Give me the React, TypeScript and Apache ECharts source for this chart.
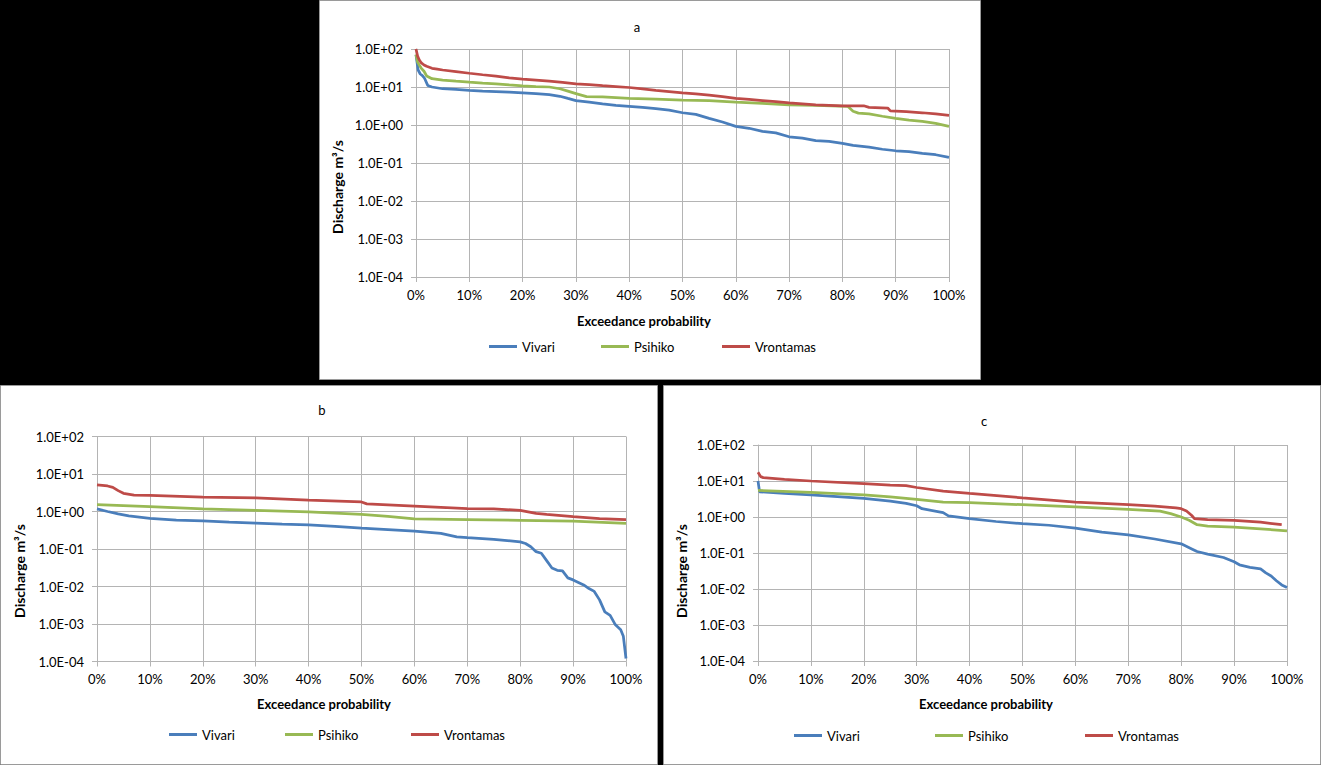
import React, { useEffect, useRef } from 'react';
import * as echarts from 'echarts';

const seriesNames = ['Vivari', 'Psihiko', 'Vrontamas'];
const seriesColors = ['#4A7EBB', '#98B954', '#BE4B48'];
const panelTitles = ['a', 'b', 'c'];
const xTickPercents = [0, 10, 20, 30, 40, 50, 60, 70, 80, 90, 100];
const yMin = 0.0001;
const yMax = 100;

// Panel a
const aVivari: [number, number][] = [
  [0, 70], [0.4, 28], [0.8, 22], [1.2, 20], [1.6, 17], [2.2, 11], [3, 10], [5, 9], [7.5, 8.6], [10, 8.1],
  [12.5, 7.8], [15, 7.6], [17.5, 7.3], [20, 7.0], [22.5, 6.7], [25, 6.3], [27, 5.7], [28.5, 5], [30, 4.4],
  [32.5, 4.0], [35, 3.6], [37.5, 3.3], [40, 3.1], [42.5, 2.9], [45, 2.7], [47.5, 2.45], [50, 2.1], [52.5, 1.9],
  [55, 1.5], [57.5, 1.2], [60, 0.92], [62.5, 0.82], [65, 0.68], [67.5, 0.62], [70, 0.49], [72.5, 0.45],
  [75, 0.39], [77.5, 0.37], [80, 0.33], [82, 0.29], [85, 0.26], [87.5, 0.23], [90, 0.21], [92.5, 0.2],
  [95, 0.18], [97.5, 0.165], [100, 0.14],
];
const aPsihiko: [number, number][] = [
  [0, 72], [0.3, 45], [0.7, 36], [1, 31], [1.5, 26], [2, 19.5], [3, 16.5], [5, 15.2], [7.5, 14.2], [10, 13.4],
  [12.5, 12.7], [15, 12.1], [17.5, 11.3], [20, 10.7], [22.5, 10.3], [25, 10], [27, 9], [28.5, 7.8], [30, 6.7],
  [32, 5.6], [35, 5.5], [40, 5.0], [45, 4.8], [50, 4.5], [55, 4.4], [60, 4.0], [65, 3.7], [70, 3.4], [75, 3.3],
  [81, 3.1], [82, 2.3], [83, 2.05], [85, 1.95], [87.5, 1.7], [90, 1.5], [92.5, 1.35], [95, 1.25], [97.5, 1.1],
  [100, 0.92],
];
const aVrontamas: [number, number][] = [
  [0, 100], [0.3, 65], [0.6, 52], [1, 43], [1.5, 38], [2, 35], [3, 31], [4, 29.5], [5, 28], [7.5, 25.5],
  [10, 23], [12.5, 21], [15, 19.4], [17.5, 17.5], [20, 16.2], [22.5, 15.2], [25, 14.2], [27.5, 13.2], [30, 12.1],
  [32.5, 11.6], [35, 10.9], [37.5, 10.3], [40, 9.7], [42.5, 8.9], [45, 8.1], [47.5, 7.6], [50, 7.0], [52.5, 6.6],
  [55, 6.1], [57.5, 5.6], [60, 5.0], [62.5, 4.7], [65, 4.4], [67.5, 4.1], [70, 3.8], [72.5, 3.6], [75, 3.4],
  [77.5, 3.3], [80, 3.2], [84, 3.2], [85, 2.9], [88.5, 2.8], [89, 2.35], [92, 2.25], [95, 2.1], [97.5, 1.95],
  [100, 1.8],
];

// Panel b
const bVivari: [number, number][] = [
  [0, 1.17], [2, 1.0], [4, 0.86], [6, 0.76], [10, 0.66], [15, 0.59], [20, 0.56], [25, 0.52], [30, 0.49],
  [35, 0.46], [40, 0.44], [45, 0.4], [50, 0.36], [55, 0.33], [60, 0.3], [65, 0.26], [68, 0.21], [70, 0.2],
  [75, 0.18], [80, 0.155], [81, 0.14], [82, 0.115], [83, 0.085], [84, 0.077], [85, 0.049], [86, 0.031],
  [87, 0.027], [88, 0.026], [89, 0.017], [90, 0.015], [92, 0.011], [93, 0.0088], [94, 0.0074], [95, 0.0044],
  [96, 0.0021], [97, 0.0017], [98, 0.00095], [99, 0.0007], [99.5, 0.00047], [100, 0.00012],
];
const bPsihiko: [number, number][] = [
  [0, 1.52], [10, 1.35], [20, 1.17], [30, 1.07], [40, 0.97], [50, 0.84], [55, 0.74], [60, 0.64], [70, 0.61],
  [80, 0.58], [90, 0.55], [100, 0.48],
];
const bVrontamas: [number, number][] = [
  [0, 5.1], [2, 4.8], [3, 4.4], [4, 3.6], [5, 3.05], [7, 2.75], [10, 2.7], [20, 2.4], [30, 2.3], [40, 2.0],
  [50, 1.8], [51, 1.6], [60, 1.4], [70, 1.2], [75, 1.17], [80, 1.07], [83, 0.89], [85, 0.84], [90, 0.73],
  [95, 0.65], [100, 0.61],
];

// Panel c
const cVivari: [number, number][] = [
  [0, 10], [0.3, 5.0], [5, 4.5], [10, 4.1], [15, 3.7], [20, 3.3], [25, 2.75], [28, 2.4], [30, 2.05], [31, 1.7],
  [35, 1.32], [36, 1.07], [40, 0.9], [45, 0.75], [50, 0.65], [55, 0.59], [60, 0.49], [65, 0.38], [70, 0.32],
  [75, 0.245], [80, 0.18], [82, 0.13], [83, 0.11], [85, 0.093], [88, 0.075], [90, 0.057], [91, 0.047],
  [93, 0.04], [95, 0.036], [96, 0.028], [97, 0.023], [98, 0.017], [99, 0.013], [100, 0.011],
];
const cPsihiko: [number, number][] = [
  [0, 5.5], [10, 4.8], [20, 4.1], [25, 3.6], [30, 3.1], [35, 2.6], [40, 2.5], [50, 2.2], [60, 1.9], [70, 1.64],
  [76, 1.46], [78, 1.24], [80, 1.0], [81.5, 0.81], [83, 0.61], [85, 0.56], [90, 0.52], [95, 0.47], [100, 0.41],
];
const cVrontamas: [number, number][] = [
  [0, 17.5], [0.5, 13.2], [1, 12.4], [5, 11.1], [10, 10], [20, 8.4], [25, 7.7], [28, 7.4], [30, 6.6], [35, 5.2],
  [40, 4.5], [50, 3.4], [60, 2.6], [70, 2.2], [75, 2.0], [79, 1.8], [80, 1.7], [81, 1.47], [82, 1.1],
  [82.5, 0.9], [85, 0.84], [90, 0.81], [95, 0.72], [99, 0.61],
];

const panelData = [
  [aVivari, aPsihiko, aVrontamas],
  [bVivari, bPsihiko, bVrontamas],
  [cVivari, cPsihiko, cVrontamas],
];

const FONT = 'Lato, "Open Sans", "Liberation Sans", sans-serif';

const layouts = [
  {
    grid: { left: 416, top: 49, width: 533, height: 228 },
    rect: { x: 319.5, y: 0.5, width: 661, height: 379 },
    title: [637, 27], xName: [644, 321], yName: [337, 187],
    legend: [[489, 348], [601, 348], [722, 348]],
  },
  {
    grid: { left: 97, top: 436.5, width: 529, height: 225 },
    rect: { x: 0.5, y: 385.5, width: 657, height: 379 },
    title: [322, 410], xName: [324, 704], yName: [19, 571],
    legend: [[169, 736], [285, 736], [411, 736]],
  },
  {
    grid: { left: 758, top: 445, width: 529, height: 216 },
    rect: { x: 663.5, y: 385.5, width: 657, height: 379 },
    title: [984, 421], xName: [986, 704], yName: [681, 571],
    legend: [[794, 737], [935, 737], [1085, 737]],
  },
];

function expLabel(v: number): string {
  const e = Math.round(Math.log10(v));
  return '1.0E' + (e >= 0 ? '+' : '-') + String(Math.abs(e)).padStart(2, '0');
}

function buildOption() {
  const gridColor = '#b4b4b4';
  const grids: any[] = [];
  const xAxes: any[] = [];
  const yAxes: any[] = [];
  const series: any[] = [];
  const legends: any[] = [];
  const elements: any[] = [];

  layouts.forEach((L, i) => {
    grids.push({ ...L.grid, containLabel: false });
    xAxes.push({
      type: 'value', gridIndex: i, min: xTickPercents[0], max: xTickPercents[xTickPercents.length - 1],
      interval: xTickPercents[1] - xTickPercents[0],
      axisLine: { show: true, lineStyle: { color: gridColor, width: 1 } },
      axisTick: { show: true, length: 5, lineStyle: { color: gridColor } },
      splitLine: { show: true, lineStyle: { color: gridColor, width: 1 } },
      axisLabel: { formatter: '{value}%', margin: 11, color: '#000', fontSize: 13, fontFamily: FONT },
    });
    yAxes.push({
      type: 'log', logBase: 10, gridIndex: i, min: yMin, max: yMax, splitNumber: 6,
      axisLine: { show: true, lineStyle: { color: gridColor, width: 1 } },
      axisTick: { show: true, length: 5, lineStyle: { color: gridColor } },
      splitLine: { show: true, lineStyle: { color: gridColor, width: 1 } },
      minorTick: { show: false },
      axisLabel: { formatter: (v: number) => expLabel(v), margin: 13, color: '#000', fontSize: 13, fontFamily: FONT },
    });
    seriesNames.forEach((name, k) => {
      series.push({
        type: 'line', name, xAxisIndex: i, yAxisIndex: i, data: panelData[i][k],
        showSymbol: false, symbol: 'none', smooth: false,
        lineStyle: { color: seriesColors[k], width: 2.75 },
        itemStyle: { color: seriesColors[k] },
        z: 3 + k,
      });
      legends.push({
        data: [name], left: L.legend[k][0], top: L.legend[k][1] - 8, padding: 0, itemGap: 0,
        icon: 'rect', itemWidth: 28, itemHeight: 3, selectedMode: false,
        textStyle: { color: '#000', fontSize: 13, fontFamily: FONT },
      });
    });
    elements.push({
      type: 'rect', z: -10, silent: true,
      shape: L.rect,
      style: { fill: '#ffffff', stroke: '#9a9a9a', lineWidth: 1 },
    });
    elements.push({
      type: 'text', z: 50, x: L.title[0], y: L.title[1],
      style: { text: panelTitles[i], fill: '#000', font: `13px ${FONT}`, textAlign: 'center', textVerticalAlign: 'middle' },
    });
    elements.push({
      type: 'text', z: 50, x: L.xName[0], y: L.xName[1],
      style: { text: 'Exceedance probability', fill: '#000', font: `bold 13px ${FONT}`, textAlign: 'center', textVerticalAlign: 'middle' },
    });
    elements.push({
      type: 'text', z: 50, x: L.yName[0], y: L.yName[1], rotation: Math.PI / 2,
      style: { text: 'Discharge m³/s', fill: '#000', font: `bold 14px ${FONT}`, textAlign: 'center', textVerticalAlign: 'middle' },
    });
  });

  return {
    animation: false,
    backgroundColor: '#000000',
    grid: grids,
    xAxis: xAxes,
    yAxis: yAxes,
    series,
    legend: legends,
    graphic: { elements },
  };
}

export default function App() {
  const ref = useRef<HTMLDivElement>(null);
  useEffect(() => {
    if (!ref.current) return;
    const chart = echarts.init(ref.current, null, { renderer: 'svg' });
    chart.setOption(buildOption());
    return () => chart.dispose();
  }, []);
  return <div ref={ref} style={{ position: 'fixed', left: 0, top: 0, width: 1321, height: 765 }} />;
}
